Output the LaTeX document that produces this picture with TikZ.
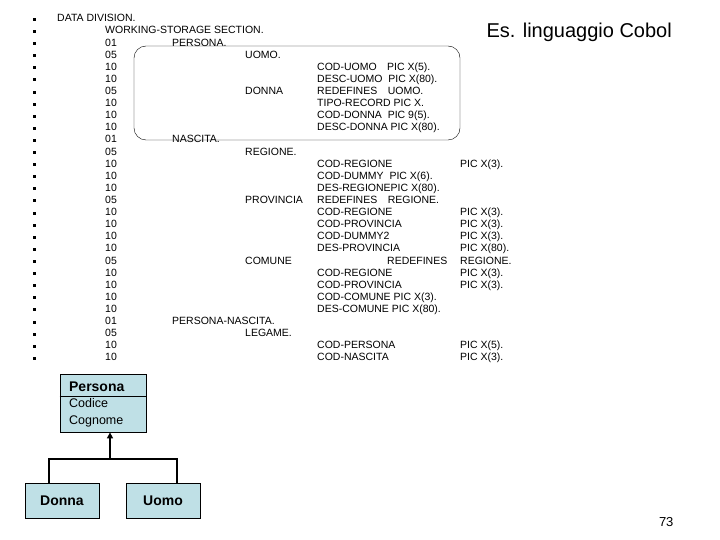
\documentclass[tikz,border=0pt]{standalone}
\usepackage{fontspec}
\setmainfont{Liberation Sans}
\usetikzlibrary{positioning, arrows.meta}
\definecolor{umlfill}{HTML}{BFE0E6}
\tikzset{
  code/.style={anchor=base west, inner sep=0pt, font=\fontsize{10.5}{12}\selectfont},
  umlbox/.style={draw, fill=umlfill, line width=0.8pt, inner sep=0pt},
  inherit/.style={line width=2.5pt}
}
\begin{document}
\begin{tikzpicture}[x=1pt, y=-1pt]
\useasboundingbox (0,0) rectangle (720,540);

% title and page number
\node[font=\fontsize{20}{22}\selectfont, anchor=base west] (title) at (483,38) {Es. linguaggio Cobol};
\node[font=\fontsize{13}{15}\selectfont, anchor=base east] (page) at (677,526) {73};

% bullets
\foreach \i in {0,...,28}
  \fill (33,{18+\i*12.1}) rectangle ++(3,3);

% code lines
\node[code] (head0) at (57,22) {DATA DIVISION.};
\node[code] (head1) at (105,34) {WORKING-STORAGE SECTION.};
\foreach \lv/\a/\b/\c/\d [count=\i from 2] in {
  01/{PERSONA.}/{}/{}/{},
  05/{}/{UOMO.}/{}/{},
  10/{}/{}/{COD-UOMO\quad PIC X(5).}/{},
  10/{}/{}/{DESC-UOMO\ \ PIC X(80).}/{},
  05/{}/{DONNA}/{REDEFINES\quad UOMO.}/{},
  10/{}/{}/{TIPO-RECORD PIC X.}/{},
  10/{}/{}/{COD-DONNA\ \ PIC 9(5).}/{},
  10/{}/{}/{DESC-DONNA PIC X(80).}/{},
  01/{NASCITA.}/{}/{}/{},
  05/{}/{REGIONE.}/{}/{},
  10/{}/{}/{COD-REGIONE}/{PIC X(3).},
  10/{}/{}/{COD-DUMMY\ \ PIC X(6).}/{},
  10/{}/{}/{DES-REGIONEPIC X(80).}/{},
  05/{}/{PROVINCIA}/{REDEFINES\quad REGIONE.}/{},
  10/{}/{}/{COD-REGIONE}/{PIC X(3).},
  10/{}/{}/{COD-PROVINCIA}/{PIC X(3).},
  10/{}/{}/{COD-DUMMY2}/{PIC X(3).},
  10/{}/{}/{DES-PROVINCIA}/{PIC X(80).},
  05/{}/{COMUNE}/{\hspace*{70pt}REDEFINES}/{REGIONE.},
  10/{}/{}/{COD-REGIONE}/{PIC X(3).},
  10/{}/{}/{COD-PROVINCIA}/{PIC X(3).},
  10/{}/{}/{COD-COMUNE PIC X(3).}/{},
  10/{}/{}/{DES-COMUNE PIC X(80).}/{},
  01/{PERSONA-NASCITA.}/{}/{}/{},
  05/{}/{LEGAME.}/{}/{},
  10/{}/{}/{COD-PERSONA}/{PIC X(5).},
  10/{}/{}/{COD-NASCITA}/{PIC X(3).}
} {
  \node[code] (lv\i) at (105,{22+\i*12.1}) {\lv};
  \node[code] (a\i) at (172,{22+\i*12.1}) {\a};
  \node[code] (b\i) at (245,{22+\i*12.1}) {\b};
  \node[code] (c\i) at (317,{22+\i*12.1}) {\c};
  \node[code] (d\i) at (460,{22+\i*12.1}) {\d};
}

% box around PERSONA
\draw[rounded corners=12pt] (134,46) rectangle (460,140);

% UML diagram
\node[umlbox, minimum width=86pt, minimum height=58pt] (persona) at (103,403) {};
\draw ([yshift=-23pt]persona.north west) -- ([yshift=-23pt]persona.north east);
\node[font=\bfseries\fontsize{14}{16}\selectfont, anchor=base west] (pname) at ([xshift=6pt,yshift=-18pt]persona.north west) {Persona};
\node[font=\fontsize{12.5}{14}\selectfont, anchor=base west] (pattr1) at ([xshift=6pt,yshift=-34pt]persona.north west) {Codice};
\node[font=\fontsize{12.5}{14}\selectfont, anchor=base west] (pattr2) at ([xshift=6pt,yshift=-51pt]persona.north west) {Cognome};
\node[umlbox, minimum width=74pt, minimum height=35pt, font=\bfseries\fontsize{14}{16}\selectfont] (donna) at (62,501) {Donna};
\node[umlbox, minimum width=74pt, minimum height=35pt, font=\bfseries\fontsize{14}{16}\selectfont] (uomo) at (163,501) {Uomo};
\coordinate (join) at (110,459);
\draw[inherit] (donna.north -| 49,0) |- (join);
\draw[inherit] (uomo.north -| 177,0) |- (join);
\draw[inherit, -{Triangle[length=6pt,width=6pt]}] (join) -- (join |- persona.south);
\end{tikzpicture}
\end{document}
